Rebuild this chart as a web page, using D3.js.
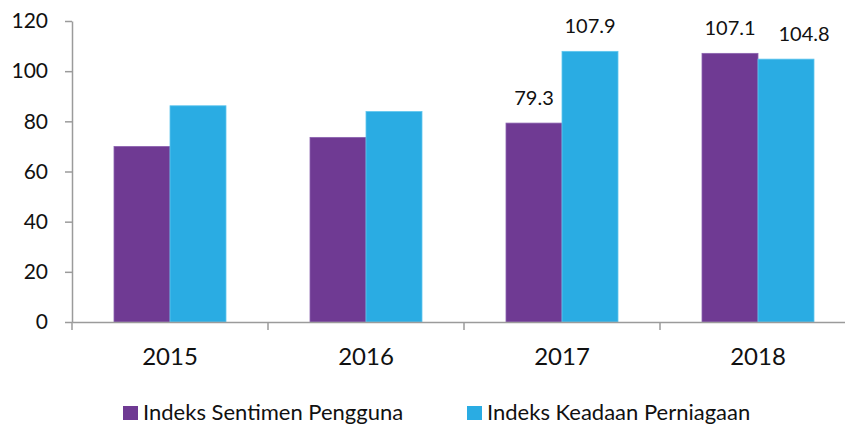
<!DOCTYPE html>
<html>
<head>
<meta charset="utf-8">
<script src="https://cdn.jsdelivr.net/npm/d3@7"></script>
<style>
  body { margin: 0; background: #fff; }
  svg { display: block; }
</style>
</head>
<body>
<script>
const years = ["2015", "2016", "2017", "2018"];
const sentimen = [70.0, 73.6, 79.3, 107.1];
const keadaan = [86.2, 83.9, 107.9, 104.8];
const seriesNames = ["Indeks Sentimen Pengguna", "Indeks Keadaan Perniagaan"];
const colors = ["#6f3a93", "#2aace3"];
const strokes = ["#8c63b0", "#5fc6ee"];
const yTicks = [0, 20, 40, 60, 80, 100, 120];
// only these bars get a value label in the original
const labelled = [[false, false, true, true], [false, false, true, true]];

const width = 845, height = 426;
const margin = { left: 72, top: 21, bottom: 104 };

const svg = d3.select("body").append("svg")
  .attr("width", width)
  .attr("height", height)
  .attr("font-family", "Lato, 'Open Sans', sans-serif");

const x = d3.scaleBand()
  .domain(years)
  .range([margin.left, margin.left + 196 * years.length])
  .paddingInner(0)
  .paddingOuter(0);

const x1 = d3.scaleBand()
  .domain([0, 1])
  .range([0, x.bandwidth()])
  .paddingInner(0)
  .paddingOuter(0.75);

const y = d3.scaleLinear()
  .domain([0, 120])
  .range([height - margin.bottom, margin.top]);

const series = [sentimen, keadaan];
const data = [];
series.forEach((vals, s) => {
  vals.forEach((v, i) => data.push({ year: years[i], s, i, v, label: labelled[s][i] }));
});

svg.selectAll("rect.bar")
  .data(data)
  .join("rect")
  .attr("class", "bar")
  .attr("x", d => x(d.year) + x1(d.s))
  .attr("y", d => y(d.v))
  .attr("width", x1.bandwidth())
  .attr("height", d => y(0) - y(d.v))
  .attr("fill", d => colors[d.s])
  .attr("stroke", d => strokes[d.s])
  .attr("stroke-width", 0.8);

// value labels (the last one was nudged right in the original to clear its neighbour)
svg.selectAll("text.val")
  .data(data.filter(d => d.label))
  .join("text")
  .attr("class", "val")
  .attr("x", d => x(d.year) + x1(d.s) + x1.bandwidth() / 2 + (d.s === 1 && d.i === 3 ? 18 : 0))
  .attr("y", d => y(d.v) - 18)
  .attr("text-anchor", "middle")
  .attr("font-size", 20)
  .attr("fill", "#111")
  .text(d => d.v.toFixed(1));

// y axis
const yAxis = svg.append("g")
  .attr("transform", `translate(${margin.left},0)`)
  .call(d3.axisLeft(y).tickValues(yTicks).tickSize(7).tickPadding(17).tickSizeOuter(0));
yAxis.select(".domain").attr("stroke", "#9b9b9b").attr("stroke-width", 1.5);
yAxis.selectAll(".tick line").attr("stroke", "#9b9b9b").attr("stroke-width", 1.5);
yAxis.selectAll(".tick text")
  .attr("font-size", 21)
  .attr("fill", "#111")
  .attr("font-family", "Lato, sans-serif");

// x axis
const xAxis = svg.append("g")
  .attr("transform", `translate(0,${y(0)})`)
  .call(d3.axisBottom(x).tickSize(0).tickPadding(26).tickSizeOuter(0));
xAxis.select(".domain").attr("stroke", "#9b9b9b").attr("stroke-width", 1.5);
xAxis.selectAll(".tick text")
  .attr("font-size", 24)
  .attr("fill", "#111")
  .attr("font-family", "Lato, sans-serif");

// category separators
svg.append("g")
  .selectAll("line")
  .data(years)
  .join("line")
  .attr("x1", d => x(d))
  .attr("x2", d => x(d))
  .attr("y1", y(0))
  .attr("y2", y(0) + 8)
  .attr("stroke", "#9b9b9b")
  .attr("stroke-width", 1.5);

// legend
const legendX = [123, 467];
const legend = svg.append("g")
  .selectAll("g")
  .data(seriesNames)
  .join("g")
  .attr("transform", (d, i) => `translate(${legendX[i]},406)`);
legend.append("rect")
  .attr("width", 15)
  .attr("height", 14)
  .attr("fill", (d, i) => colors[i]);
legend.append("text")
  .attr("x", 20)
  .attr("y", 14)
  .attr("font-size", 22)
  .attr("fill", "#111")
  .text(d => d);
</script>
</body>
</html>
